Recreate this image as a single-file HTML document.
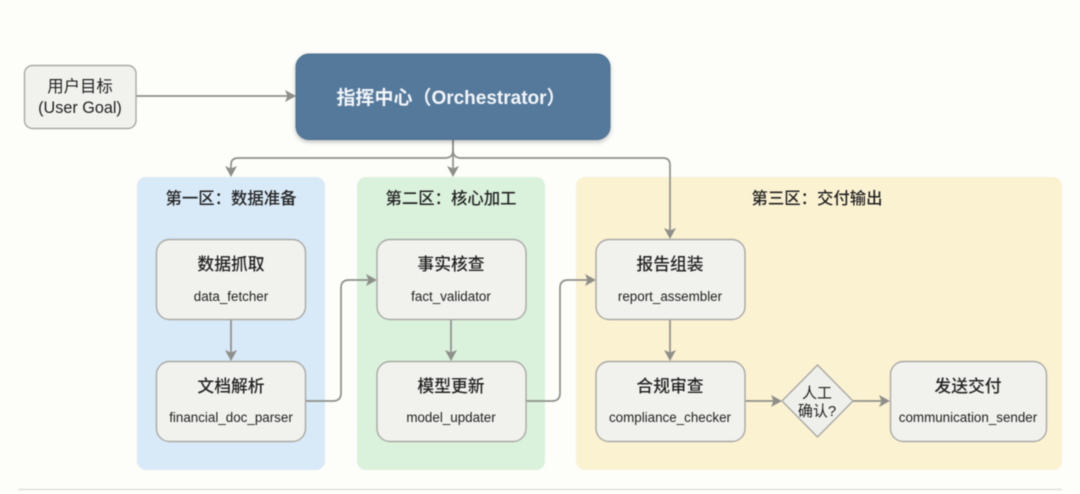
<!DOCTYPE html>
<html lang="zh">
<head>
<meta charset="utf-8">
<style>
html,body{margin:0;padding:0;background:#fdfdf9}
svg{display:block;filter:blur(0.5px)}
text{font-family:"Liberation Sans","Noto Sans CJK SC",sans-serif;text-anchor:middle}
.node{fill:#f1f1ee;stroke:#a9a9a4;stroke-width:1.4}
.t{font-size:16.8px;fill:#222;font-weight:500}
.s{font-size:13.4px;fill:#222}
.z{font-size:16.4px;fill:#222;font-weight:500}
.l{fill:none;stroke:#8f8f8a;stroke-width:1.7}
.a{fill:#8f8f8a}
</style>
</head>
<body>
<svg width="1080" height="494" viewBox="0 0 1080 494" xmlns="http://www.w3.org/2000/svg">
<defs>
<filter id="sh" x="-5%" y="-10%" width="110%" height="125%"><feDropShadow dx="0" dy="2" stdDeviation="2" flood-color="#000" flood-opacity=".25"/></filter>
</defs>
<rect width="1080" height="494" fill="#fdfdf9"/>

<rect x="137" y="177" width="188" height="293" rx="9" fill="#d8e9f7"/>
<rect x="357" y="177" width="188" height="293" rx="9" fill="#daf1dc"/>
<rect x="576" y="177" width="486" height="293" rx="9" fill="#fbf2d2"/>

<line x1="18" y1="489.5" x2="1062" y2="489.5" stroke="#dcdcd6" stroke-width="1.2"/>

<!-- connectors -->
<path class="l" d="M136 96H288"/>
<polygon class="a" points="296,96 285,90 287.500,96 285,102"/>
<path class="l" d="M453 140V150Q453 158 445 158H238Q231 158 231 165V170"/>
<polygon class="a" points="231,177 225,166 231,168.500 237,166"/>
<path class="l" d="M453 140V170"/>
<polygon class="a" points="453,177 447,166 453,168.500 459,166"/>
<path class="l" d="M453 150Q453 158 461 158H663Q670 158 670 165V232"/>
<polygon class="a" points="670,239 664,228 670,230.500 676,228"/>
<path class="l" d="M231 320V354"/>
<polygon class="a" points="231,361 225,350 231,352.500 237,350"/>
<path class="l" d="M451 320V354"/>
<polygon class="a" points="451,361 445,350 451,352.500 457,350"/>
<path class="l" d="M670 320V354"/>
<polygon class="a" points="670,361 664,350 670,352.500 676,350"/>
<path class="l" d="M306 401H333Q341 401 341 393V288Q341 280 349 280H370"/>
<polygon class="a" points="377,280 366,274 368.500,280 366,286"/>
<path class="l" d="M526 401H552Q560 401 560 393V288Q560 280 568 280H589"/>
<polygon class="a" points="596,280 585,274 587.500,280 585,286"/>
<path class="l" d="M745 401H775"/>
<polygon class="a" points="782,401 771,395 773.500,401 771,407"/>
<path class="l" d="M853 401H883"/>
<polygon class="a" points="890,401 879,395 881.500,401 879,407"/>

<!-- top nodes -->
<rect class="node" x="24.500" y="65.500" width="111.500" height="63" rx="8"/>
<text x="80" y="92" font-size="16.400" fill="#222">用户目标</text>
<text x="80" y="113" font-size="16.200" fill="#222">(User Goal)</text>

<rect x="296" y="54" width="314" height="85.500" rx="13" fill="#54799b" stroke="#4c7194" stroke-width="1" filter="url(#sh)"/>
<text x="451" y="104" font-size="19" font-weight="700" fill="#f2f5f8">指挥中心（Orchestrator）</text>

<!-- zone titles -->
<text class="z" x="231" y="204">第一区：数据准备</text>
<text class="z" x="451" y="204">第二区：核心加工</text>
<text class="z" x="817" y="204">第三区：交付输出</text>

<!-- nodes -->
<rect class="node" x="156.500" y="239.500" width="149" height="80" rx="13"/>
<text class="t" x="231" y="270">数据抓取</text>
<text class="s" x="231" y="301">data_fetcher</text>

<rect class="node" x="156.500" y="361.500" width="149" height="80" rx="13"/>
<text class="t" x="231" y="392">文档解析</text>
<text class="s" x="231" y="422">financial_doc_parser</text>

<rect class="node" x="377" y="239.500" width="149" height="80" rx="13"/>
<text class="t" x="451" y="270">事实核查</text>
<text class="s" x="451" y="301">fact_validator</text>

<rect class="node" x="377" y="361.500" width="149" height="80" rx="13"/>
<text class="t" x="451" y="392">模型更新</text>
<text class="s" x="451" y="422">model_updater</text>

<rect class="node" x="596" y="239.500" width="149" height="80" rx="13"/>
<text class="t" x="670" y="270">报告组装</text>
<text class="s" x="670" y="301">report_assembler</text>

<rect class="node" x="596" y="361.500" width="149" height="80" rx="13"/>
<text class="t" x="670" y="392">合规审查</text>
<text class="s" x="670" y="422">compliance_checker</text>

<polygon points="817.500,365 853,401 817.500,437 782,401" fill="#efefec" stroke="#a9a9a4" stroke-width="1.4"/>
<text x="817" y="398" font-size="15" fill="#222">人工</text>
<text x="817" y="416" font-size="15" fill="#222">确认?</text>

<rect class="node" x="890.500" y="361.500" width="156" height="80" rx="13"/>
<text class="t" x="968" y="392">发送交付</text>
<text class="s" x="968" y="422">communication_sender</text>
</svg>
</body>
</html>
